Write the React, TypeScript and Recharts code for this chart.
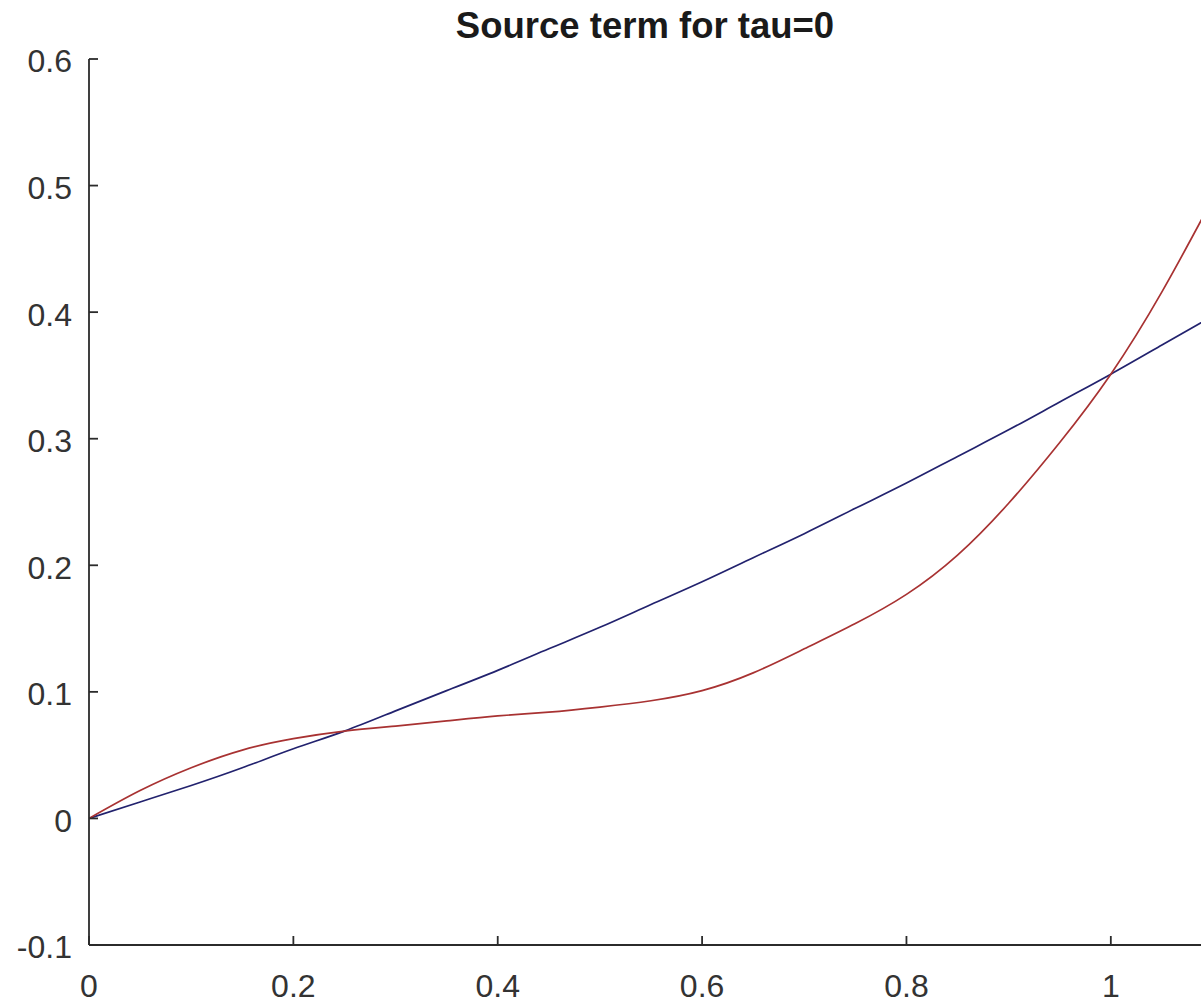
import React from 'react';
import { LineChart, Line, XAxis, YAxis } from 'recharts';

const xs = [0, 0.05, 0.1, 0.15, 0.2, 0.25, 0.3, 0.35, 0.4, 0.45, 0.5, 0.55, 0.6, 0.65, 0.7, 0.75, 0.8, 0.85, 0.9, 0.95, 1.0, 1.05, 1.1];
const redVals = [0, 0.022, 0.040, 0.054, 0.063, 0.069, 0.073, 0.077, 0.081, 0.084, 0.088, 0.093, 0.101, 0.115, 0.134, 0.154, 0.177, 0.208, 0.249, 0.297, 0.351, 0.416, 0.49];
const blueVals = [0, 0.013, 0.026, 0.040, 0.055, 0.069, 0.085, 0.101, 0.117, 0.134, 0.151, 0.169, 0.187, 0.206, 0.225, 0.245, 0.265, 0.286, 0.307, 0.329, 0.351, 0.374, 0.397];

const xTicks = [0, 0.2, 0.4, 0.6, 0.8, 1];
const xTickLabels = ['0', '0.2', '0.4', '0.6', '0.8', '1'];
const yTicks = [-0.1, 0, 0.1, 0.2, 0.3, 0.4, 0.5, 0.6];
const yTickLabels = ['-0.1', '0', '0.1', '0.2', '0.3', '0.4', '0.5', '0.6'];

const title = 'Source term for tau=0';

const data = xs.map((x, i) => ({ x, red: redVals[i], blue: blueVals[i] }));

const AXIS = '#2b2b2b';
const TXT = '#333333';
const FONT = '"Liberation Sans", Arial, Helvetica, sans-serif';
const TICK_LEN = 9;
const PLOT_TOP = 59;
const PLOT_BOTTOM = 945;
const PLOT_LEFT = 89;
const X_AXIS_H = 60;
const CHART_H = 1005;

const labelFor = (vals: number[], labels: string[], v: number) => {
  const i = vals.findIndex((t) => Math.abs(t - v) < 1e-9);
  return i >= 0 ? labels[i] : String(v);
};

const BottomTick = (props: any) => {
  const { x, payload } = props;
  return (
    <g>
      <line x1={x} x2={x} y1={PLOT_BOTTOM} y2={PLOT_BOTTOM - TICK_LEN} stroke={AXIS} strokeWidth={1.8} />
      <text x={x} y={PLOT_BOTTOM + 52} textAnchor="middle" fontSize={32} fill={TXT} fontFamily={FONT}>
        {labelFor(xTicks, xTickLabels, payload.value)}
      </text>
    </g>
  );
};

const TopTick = (props: any) => {
  const { x } = props;
  return (
    <g>
      <line x1={x} x2={x} y1={PLOT_TOP} y2={PLOT_TOP + TICK_LEN} stroke={AXIS} strokeWidth={1.8} />
    </g>
  );
};

const LeftTick = (props: any) => {
  const { y, payload } = props;
  return (
    <g>
      <line x1={PLOT_LEFT} x2={PLOT_LEFT + TICK_LEN} y1={y} y2={y} stroke={AXIS} strokeWidth={1.8} />
      <text x={PLOT_LEFT - 17} y={y + 2} dy="0.355em" textAnchor="end" fontSize={32} fill={TXT} fontFamily={FONT}>
        {labelFor(yTicks, yTickLabels, payload.value)}
      </text>
    </g>
  );
};

export default function App() {
  return (
    <div
      style={{
        position: 'fixed',
        left: 0,
        top: 0,
        width: 1201,
        height: 1005,
        overflow: 'hidden',
        background: '#ffffff',
      }}
    >
      <div
        style={{
          position: 'absolute',
          left: 345,
          width: 600,
          top: 8,
          textAlign: 'center',
          fontFamily: FONT,
          fontWeight: 'bold',
          fontSize: 36.5,
          lineHeight: '36px',
          color: '#1a1a1a',
        }}
      >
        {title}
      </div>
      <LineChart
        width={1240}
        height={CHART_H}
        data={data}
        margin={{ top: PLOT_TOP, right: 27, bottom: CHART_H - PLOT_BOTTOM - X_AXIS_H, left: 0 }}
      >
        <XAxis
          dataKey="x"
          type="number"
          domain={[0, 1.1]}
          ticks={xTicks}
          allowDataOverflow
          height={X_AXIS_H}
          axisLine={{ stroke: AXIS, strokeWidth: 1.8 }}
          tickLine={false}
          tick={<BottomTick />}
          interval={0}
        />
        <XAxis
          xAxisId="top"
          orientation="top"
          dataKey="x"
          type="number"
          domain={[0, 1.1]}
          ticks={xTicks}
          allowDataOverflow
          height={0}
          axisLine={{ stroke: AXIS, strokeWidth: 1.8 }}
          tickLine={false}
          tick={<TopTick />}
          interval={0}
        />
        <YAxis
          type="number"
          domain={[-0.1, 0.6]}
          ticks={yTicks}
          allowDataOverflow
          width={PLOT_LEFT}
          axisLine={{ stroke: AXIS, strokeWidth: 1.8 }}
          tickLine={false}
          tick={<LeftTick />}
          interval={0}
        />
        <Line
          type="natural"
          dataKey="blue"
          stroke="#22226e"
          strokeWidth={1.7}
          dot={false}
          isAnimationActive={false}
        />
        <Line
          type="natural"
          dataKey="red"
          stroke="#a83232"
          strokeWidth={1.7}
          dot={false}
          isAnimationActive={false}
        />
      </LineChart>
    </div>
  );
}
